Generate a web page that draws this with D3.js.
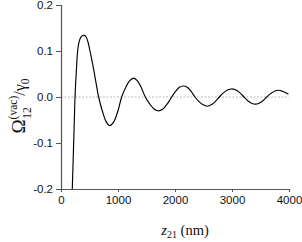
<!DOCTYPE html>
<html><head><meta charset="utf-8">
<script src="https://cdn.jsdelivr.net/npm/d3@7"></script>
<style>body{margin:0;background:#fff}svg{display:block}</style>
</head><body>
<svg id="c" width="302" height="242"></svg>
<script>
const zValues = [198,210,222,234,246,270,292,320,350,380,409,440,475,509,545,580,620,660,727,794,855,925,997,1064,1133,1202,1275,1341,1410,1479,1556,1633,1707,1788,1865,1942,2010,2078,2140,2215,2283,2351,2422,2493,2568,2636,2707,2778,2850,2922,2990,3067,3139,3211,3277,3343,3410,3476,3542,3608,3677,3746,3820,3884,3953,3990];
const omegaValues = [-0.2,-0.15,-0.10,-0.05,0.0,0.058,0.10,0.121,0.130,0.1335,0.134,0.131,0.119,0.10,0.078,0.055,0.027,0.0,-0.031,-0.054,-0.062,-0.054,-0.031,0.0,0.020,0.035,0.041,0.035,0.020,0.0,-0.015,-0.026,-0.030,-0.026,-0.015,0.0,0.012,0.021,0.024,0.021,0.012,0.0,-0.010,-0.017,-0.020,-0.017,-0.010,0.0,0.009,0.015,0.0175,0.015,0.009,0.0,-0.008,-0.0134,-0.0155,-0.0134,-0.008,0.0,0.0073,0.0126,0.0146,0.0126,0.0085,0.006];
const xTicks = [0,1000,2000,3000,4000];
const yTicks = [-0.2,-0.1,0.0,0.1,0.2];

const svg = d3.select("#c");
const x = d3.scaleLinear().domain([0,4000]).range([61,289]);
const y = d3.scaleLinear().domain([-0.2,0.2]).range([189,5]);
const axisColor = "#555";

svg.append("line").attr("x1",x(0)).attr("x2",x(4000)).attr("y1",y(0)).attr("y2",y(0))
  .attr("stroke","#bbb").attr("stroke-width",1).attr("stroke-dasharray","2,1.5");

const xAxis = svg.append("g").attr("transform",`translate(0,${y(-0.2)})`)
  .call(d3.axisBottom(x).tickValues(xTicks).tickFormat(d3.format("d")).tickSizeOuter(0).tickSize(3).tickPadding(4));
const yAxis = svg.append("g").attr("transform",`translate(${x(0)},0)`)
  .call(d3.axisLeft(y).tickValues(yTicks).tickFormat(d3.format(".1f")).tickSizeOuter(0).tickSize(5).tickPadding(3));
[xAxis,yAxis].forEach(g=>{
  g.select(".domain").attr("stroke",axisColor).attr("stroke-width",1.2);
  g.selectAll(".tick line").attr("stroke",axisColor).attr("stroke-width",1);
  g.selectAll(".tick text").attr("fill","#111").attr("font-family","Liberation Sans, Arial, sans-serif").attr("font-size",11.5);
});
yAxis.selectAll(".tick text").text(d=>d3.format(".1f")(d).replace("−","-"));

const line = d3.line().x((d,i)=>x(zValues[i])).y(d=>y(d)).curve(d3.curveCatmullRom.alpha(0.5));
svg.append("path").datum(omegaValues).attr("d",line).attr("fill","none").attr("stroke","#000").attr("stroke-width",1.15);

const xl = svg.append("text").attr("x",185).attr("y",235).attr("text-anchor","middle")
  .attr("font-family","Liberation Serif, Times New Roman, serif").attr("font-size",14.5).attr("fill","#111");
xl.append("tspan").attr("font-style","italic").text("z");
xl.append("tspan").attr("font-size",10).attr("dy",3).text("21");
xl.append("tspan").attr("dy",-3).text(" (nm)");

const yl = svg.append("text").attr("transform","translate(25,106) rotate(-90)").attr("text-anchor","middle")
  .attr("font-family","Liberation Serif, Times New Roman, serif").attr("font-size",19).attr("fill","#111");
yl.append("tspan").text("Ω");
yl.append("tspan").attr("font-size",11.5).attr("dy",-8).text("(vac)");
yl.append("tspan").attr("font-size",11.5).attr("dx",-23).attr("dy",14).text("12");
yl.append("tspan").attr("font-size",16).attr("dx",11.5).attr("dy",-6).text("/γ");
yl.append("tspan").attr("font-size",11.5).attr("dy",4).text("0");
</script>
</body></html>
